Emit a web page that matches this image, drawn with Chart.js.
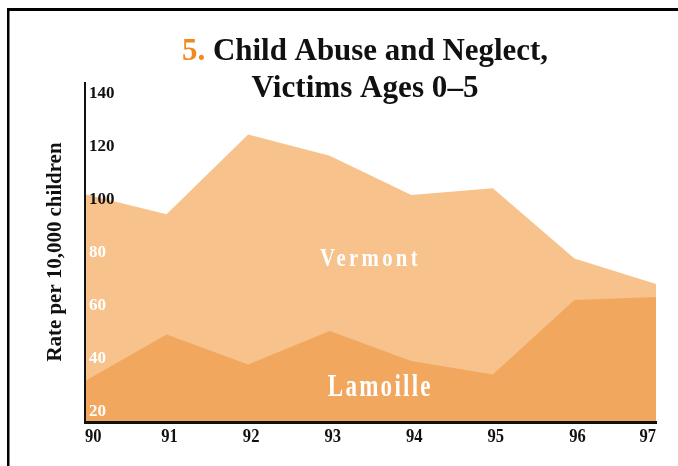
<!DOCTYPE html>
<html lang="en">
<head>
<meta charset="UTF-8">
<title>Child Abuse and Neglect, Victims Ages 0-5</title>
<style>
  html, body { margin: 0; padding: 0; background: #fff; }
  canvas { display: block; }
</style>
</head>
<body>
<canvas id="chart" width="678" height="466"></canvas>
<script src="https://cdn.jsdelivr.net/npm/chart.js"></script>
<script>
// data (rate per 10,000 children)
const years = ['90', '91', '92', '93', '94', '95', '96', '97'];
const vermont = [102, 94.4, 124.6, 116.5, 101.7, 104.3, 77.7, 68.1];
const lamoille = [31.5, 49.0, 37.7, 50.4, 39.0, 33.9, 62.1, 63.2];
const yTicks = [20, 40, 60, 80, 100, 120, 140];

const SERIF = "'Liberation Serif', 'Times New Roman', serif";
const LIGHT = '#F7C28B';
const DARK = '#F2A75E';
const ORANGE = '#EE8A1E';

// draws text squeezed/stretched horizontally so it spans `width` px
function fitText(ctx, text, x, y, width, align) {
  const w = ctx.measureText(text).width;
  const sx = width / w;
  ctx.save();
  ctx.translate(x, y);
  ctx.scale(sx, 1);
  ctx.textAlign = align || 'center';
  ctx.fillText(text, 0, 0);
  ctx.restore();
}

const decor = {
  id: 'decor',
  beforeDraw(chart) {
    const ctx = chart.ctx;
    ctx.save();
    ctx.fillStyle = '#fff';
    ctx.fillRect(0, 0, chart.width, chart.height);
    // frame
    ctx.fillStyle = '#000';
    ctx.fillRect(7, 8, chart.width - 7, 3);
    ctx.fillRect(7, 8, 2.5, chart.height - 8);
    ctx.restore();
  },
  afterDraw(chart) {
    const ctx = chart.ctx;
    const xs = chart.scales.x, ys = chart.scales.y;
    ctx.save();
    ctx.textBaseline = 'alphabetic';

    // title, line 1 with orange number
    ctx.font = 'bold 32px ' + SERIF;
    const lead = '5. ';
    const rest = 'Child Abuse and Neglect,';
    const full = ctx.measureText(lead + rest).width;
    const sx = 366 / full;
    ctx.save();
    ctx.translate(182, 60);
    ctx.scale(sx, 1);
    ctx.textAlign = 'left';
    ctx.fillStyle = ORANGE;
    ctx.fillText('5.', 0, 0);
    ctx.fillStyle = '#111';
    ctx.fillText(rest, ctx.measureText(lead).width, 0);
    ctx.restore();
    ctx.fillStyle = '#111';
    fitText(ctx, 'Victims Ages 0\u20135', 365, 96.5, 227);

    // y axis title
    ctx.save();
    ctx.translate(61, 252);
    ctx.rotate(-Math.PI / 2);
    ctx.font = 'bold 20px ' + SERIF;
    fitText(ctx, 'Rate per 10,000 children', 0, 0, 219);
    ctx.restore();

    // x tick labels: first flush left, last flush right
    ctx.font = 'bold 18px ' + SERIF;
    ctx.fillStyle = '#111';
    years.forEach((lab, i) => {
      const px = xs.getPixelForValue(i);
      const last = years.length - 1;
      const align = i === 0 ? 'left' : (i === last ? 'right' : 'center');
      const w = ctx.measureText(lab).width;
      fitText(ctx, lab, px + (i === 0 || i === last ? 0 : 3), 442, w * 0.92, align);
    });

    // series names inside the areas
    ctx.fillStyle = '#fff';
    ctx.font = 'bold 25px ' + SERIF;
    ctx.letterSpacing = '4px';
    fitText(ctx, 'Vermont', xs.getPixelForValue(3.5), ys.getPixelForValue(75), 101);
    ctx.font = 'bold 31px ' + SERIF;
    ctx.letterSpacing = '3px';
    fitText(ctx, 'Lamoille', xs.getPixelForValue(3.62), ys.getPixelForValue(26), 105);
    ctx.restore();
  }
};

new Chart(document.getElementById('chart').getContext('2d'), {
  type: 'line',
  data: {
    labels: years,
    datasets: [
      {
        label: 'Lamoille',
        data: lamoille,
        fill: 'start',
        backgroundColor: DARK,
        borderWidth: 0,
        pointRadius: 0,
        tension: 0
      },
      {
        label: 'Vermont',
        data: vermont,
        fill: 'start',
        backgroundColor: LIGHT,
        borderWidth: 0,
        pointRadius: 0,
        tension: 0
      }
    ]
  },
  options: {
    responsive: false,
    animation: false,
    layout: { padding: { left: 85, right: 22, top: 83, bottom: 44 } },
    plugins: {
      legend: { display: false },
      tooltip: { enabled: false },
      title: { display: false }
    },
    scales: {
      x: {
        offset: false,
        grid: { display: false, drawTicks: false },
        border: { display: true, color: '#111', width: 3, z: 1 },
        ticks: { display: false },
        afterFit: s => { s.height = 0; }
      },
      y: {
        min: 16,
        max: 144,
        grid: { display: false, drawTicks: false },
        border: { display: true, color: '#111', width: 2, z: 1 },
        afterBuildTicks: s => { s.ticks = yTicks.map(v => ({ value: v })); },
        ticks: {
          mirror: true,
          padding: 4,
          z: 1,
          font: { family: SERIF, size: 17, weight: 'bold' },
          color: c => (c.tick && c.tick.value >= 100 ? '#111' : '#fff')
        },
        afterFit: s => { s.width = 0; }
      }
    }
  },
  plugins: [decor]
});
</script>
</body>
</html>
